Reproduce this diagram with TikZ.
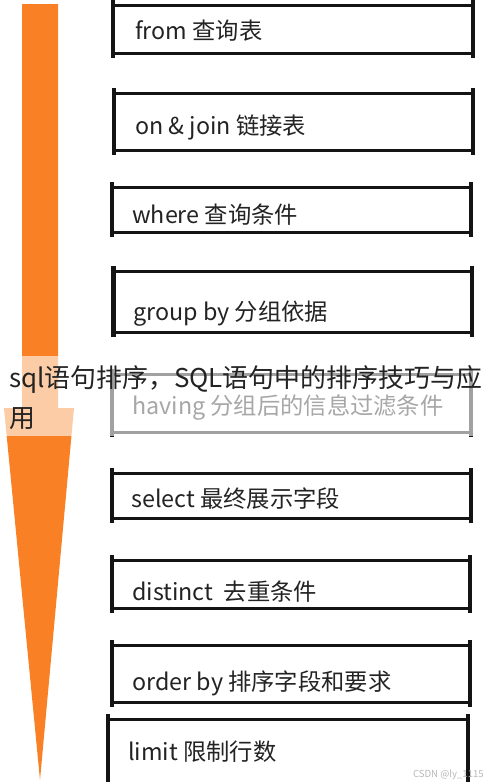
\documentclass[tikz,border=0pt]{standalone}
\usepackage{fontspec}
\setmainfont{Noto Sans CJK SC}
\definecolor{orng}{RGB}{249,128,36}
\definecolor{ink}{RGB}{20,20,20}
\definecolor{txt}{RGB}{35,35,35}
\tikzset{
  sqlbox/.style={rectangle,draw=none,inner sep=0pt,outer sep=0pt,anchor=north west},
  hline/.style={line width=3pt,draw=ink},
  vline/.style={line width=3.5pt,draw=ink},
  lbl/.style={anchor=base west,inner sep=0pt,font=\fontsize{23.3pt}{26pt}\selectfont,text=txt},
  ovl/.style={anchor=base west,inner sep=0pt,font=\fontsize{25.9pt}{30pt}\selectfont,text=txt},
}
\newcommand\boxlines[2][3.5pt]{%
  \draw[hline] (#2.north west) -- (#2.north east);
  \draw[hline] (#2.south west) -- (#2.south east);
  \draw[vline,line width=#1] ([yshift=5pt]#2.north west) -- ([yshift=-5pt]#2.south west);
  \draw[vline] ([yshift=5pt]#2.north east) -- ([yshift=-5pt]#2.south east);
}
\begin{document}
\begin{tikzpicture}[x=1pt,y=-1pt]
\useasboundingbox (0,0) rectangle (490,782);
\fill[white] (0,0) rectangle (490,782);
% orange arrow
\fill[orng] (22,4) -- (58,4) -- (58,408) -- (74,408) -- (40,780) -- (4,408) -- (22,408) -- cycle;
% boxes
\node[sqlbox,minimum width=360pt,minimum height=48pt] (b1) at (113,5) {};
\node[sqlbox,minimum width=359pt,minimum height=57pt] (b2) at (114,93) {};
\node[sqlbox,minimum width=359pt,minimum height=45pt] (b3) at (112,187) {};
\node[sqlbox,minimum width=359pt,minimum height=61pt] (b4) at (113,271) {};
\node[sqlbox,minimum width=359pt,minimum height=58pt] (b5) at (112,374) {};
\node[sqlbox,minimum width=359pt,minimum height=45pt] (b6) at (112,473) {};
\node[sqlbox,minimum width=358pt,minimum height=48pt] (b7) at (112,560) {};
\node[sqlbox,minimum width=358pt,minimum height=57pt] (b8) at (112,645) {};
\boxlines{b1}
\boxlines{b2}
\boxlines{b3}
\boxlines[5pt]{b4}
\boxlines{b5}
\boxlines{b6}
\boxlines{b7}
\boxlines{b8}
% open limit box
\coordinate (l1) at (108,719);
\coordinate (l2) at (468,719);
\coordinate (l1b) at (108,782);
\coordinate (l2b) at (468,782);
\draw[hline] (l1) -- (l2);
\draw[vline] ([yshift=5pt]l1) -- (l1b);
\draw[vline] ([yshift=5pt]l2) -- (l2b);
% labels
\node[lbl] (t1) at (135,39) {from 查询表};
\node[lbl] (t2) at (135,134) {on \& join 链接表};
\node[lbl] (t3) at (132,223) {where 查询条件};
\node[lbl] (t4) at (133,320) {group by 分组依据};
\node[lbl] (t5) at (132,414) {having 分组后的信息过滤条件};
\node[lbl] (t6) at (131,507) {select 最终展示字段};
\node[lbl] (t7) at (132,600) {distinct\ \ 去重条件};
\node[lbl] (t8) at (132,690) {order by 排序字段和要求};
\node[lbl] (t9) at (128,760) {limit 限制行数};
% overlay
\fill[white,opacity=0.6] (0,356) rectangle (490,436);
\node[ovl] (ov1) at (9,387) {sql语句排序，SQL语句中的排序技巧与应};
\node[ovl] (ov2) at (9,427) {用};
% watermark
\node[anchor=east,inner sep=0pt,font=\fontsize{9.6pt}{11pt}\selectfont,text=black!28] (wm) at (484,775) {CSDN @ly\_1115};
\end{tikzpicture}
\end{document}
